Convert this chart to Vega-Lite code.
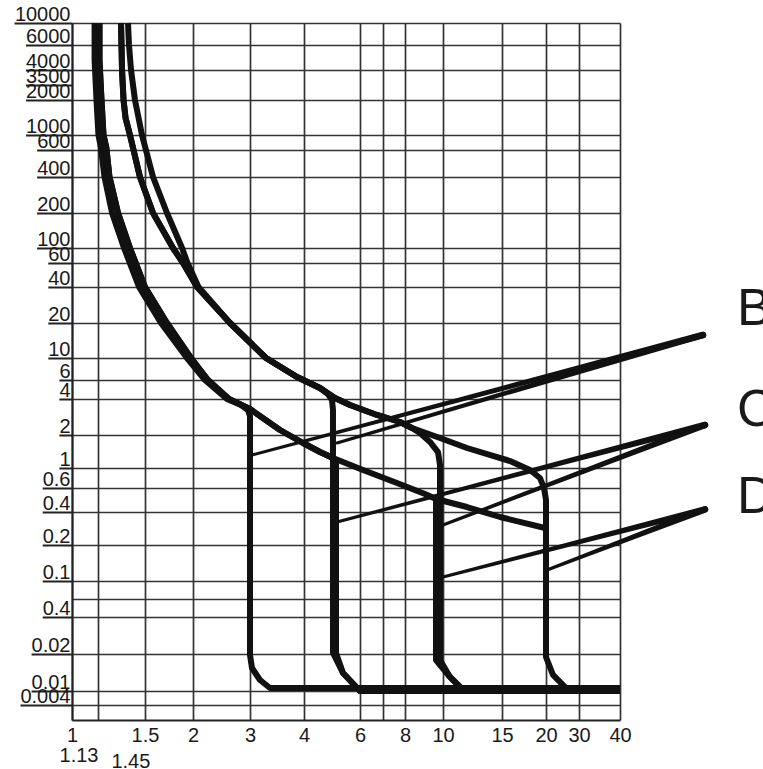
{
  "$schema": "https://vega.github.io/schema/vega-lite/v6.json",
  "autosize": {"type": "none"},
  "padding": {"left": 72, "top": 23, "right": 143, "bottom": 49},
  "width": 548,
  "height": 697,
  "background": "white",
  "config": {"view": {"stroke": null}},
  "datasets": {
    "curves": [
      {"s": "Blow", "i": 0, "x": 1.112, "t": 10000},
      {"s": "Blow", "i": 1, "x": 1.112, "t": 4705},
      {"s": "Blow", "i": 2, "x": 1.122, "t": 2000},
      {"s": "Blow", "i": 3, "x": 1.133, "t": 1000},
      {"s": "Blow", "i": 4, "x": 1.15, "t": 650},
      {"s": "Blow", "i": 5, "x": 1.175, "t": 400},
      {"s": "Blow", "i": 6, "x": 1.23, "t": 200},
      {"s": "Blow", "i": 7, "x": 1.322, "t": 100},
      {"s": "Blow", "i": 8, "x": 1.447, "t": 40},
      {"s": "Blow", "i": 9, "x": 1.651, "t": 20},
      {"s": "Blow", "i": 10, "x": 1.929, "t": 10},
      {"s": "Blow", "i": 11, "x": 2.178, "t": 6},
      {"s": "Blow", "i": 12, "x": 2.547, "t": 4},
      {"s": "Blow", "i": 13, "x": 2.814, "t": 3.564},
      {"s": "Blow", "i": 14, "x": 2.958, "t": 3.236},
      {"s": "Blow", "i": 15, "x": 3, "t": 2.884},
      {"s": "Blow", "i": 16, "x": 3, "t": 0.01963},
      {"s": "Blow", "i": 17, "x": 3.032, "t": 0.01539},
      {"s": "Blow", "i": 18, "x": 3.164, "t": 0.01229},
      {"s": "Blow", "i": 19, "x": 3.337, "t": 0.01058},
      {"s": "Blow", "i": 20, "x": 40, "t": 0.01058},

      {"s": "Clow", "i": 0, "x": 1.14, "t": 10000},
      {"s": "Clow", "i": 1, "x": 1.14, "t": 4705},
      {"s": "Clow", "i": 2, "x": 1.154, "t": 2000},
      {"s": "Clow", "i": 3, "x": 1.168, "t": 1000},
      {"s": "Clow", "i": 4, "x": 1.188, "t": 650},
      {"s": "Clow", "i": 5, "x": 1.211, "t": 400},
      {"s": "Clow", "i": 6, "x": 1.275, "t": 200},
      {"s": "Clow", "i": 7, "x": 1.37, "t": 100},
      {"s": "Clow", "i": 8, "x": 1.5, "t": 40},
      {"s": "Clow", "i": 9, "x": 1.711, "t": 20},
      {"s": "Clow", "i": 10, "x": 1.976, "t": 10},
      {"s": "Clow", "i": 11, "x": 2.225, "t": 6},
      {"s": "Clow", "i": 12, "x": 2.584, "t": 4},
      {"s": "Clow", "i": 13, "x": 3, "t": 3.3},
      {"s": "Clow", "i": 14, "x": 3.52, "t": 2.202},
      {"s": "Clow", "i": 15, "x": 3.979, "t": 1.691},
      {"s": "Clow", "i": 16, "x": 4.491, "t": 1.399},
      {"s": "Clow", "i": 17, "x": 4.934, "t": 1.234},
      {"s": "Clow", "i": 18, "x": 5.043, "t": 1.088},
      {"s": "Clow", "i": 19, "x": 5.043, "t": 0.02038},
      {"s": "Clow", "i": 20, "x": 5.305, "t": 0.01401},
      {"s": "Clow", "i": 21, "x": 6, "t": 0.01},
      {"s": "Clow", "i": 22, "x": 40, "t": 0.01},

      {"s": "Dlow", "i": 0, "x": 1.14, "t": 10000},
      {"s": "Dlow", "i": 1, "x": 1.14, "t": 4705},
      {"s": "Dlow", "i": 2, "x": 1.154, "t": 2000},
      {"s": "Dlow", "i": 3, "x": 1.168, "t": 1000},
      {"s": "Dlow", "i": 4, "x": 1.188, "t": 650},
      {"s": "Dlow", "i": 5, "x": 1.211, "t": 400},
      {"s": "Dlow", "i": 6, "x": 1.275, "t": 200},
      {"s": "Dlow", "i": 7, "x": 1.37, "t": 100},
      {"s": "Dlow", "i": 8, "x": 1.5, "t": 40},
      {"s": "Dlow", "i": 9, "x": 1.711, "t": 20},
      {"s": "Dlow", "i": 10, "x": 1.976, "t": 10},
      {"s": "Dlow", "i": 11, "x": 2.225, "t": 6},
      {"s": "Dlow", "i": 12, "x": 2.584, "t": 4},
      {"s": "Dlow", "i": 13, "x": 3, "t": 3.3},
      {"s": "Dlow", "i": 14, "x": 3.52, "t": 2.202},
      {"s": "Dlow", "i": 15, "x": 3.979, "t": 1.691},
      {"s": "Dlow", "i": 16, "x": 4.491, "t": 1.399},
      {"s": "Dlow", "i": 17, "x": 4.934, "t": 1.234},
      {"s": "Dlow", "i": 18, "x": 6.122, "t": 0.9502},
      {"s": "Dlow", "i": 19, "x": 7.621, "t": 0.6817},
      {"s": "Dlow", "i": 20, "x": 8.997, "t": 0.5422},
      {"s": "Dlow", "i": 21, "x": 9.597, "t": 0.4982},
      {"s": "Dlow", "i": 22, "x": 9.597, "t": 0.01787},
      {"s": "Dlow", "i": 23, "x": 10.49, "t": 0.013},
      {"s": "Dlow", "i": 24, "x": 11.47, "t": 0.01019},
      {"s": "Dlow", "i": 25, "x": 40, "t": 0.01019},

      {"s": "Ext", "i": 0, "x": 9.597, "t": 0.4982},
      {"s": "Ext", "i": 1, "x": 11.79, "t": 0.4352},
      {"s": "Ext", "i": 2, "x": 14.79, "t": 0.3601},
      {"s": "Ext", "i": 3, "x": 19.87, "t": 0.2858},

      {"s": "Bhigh", "i": 0, "x": 1.298, "t": 10000},
      {"s": "Bhigh", "i": 1, "x": 1.302, "t": 6000},
      {"s": "Bhigh", "i": 2, "x": 1.306, "t": 4000},
      {"s": "Bhigh", "i": 3, "x": 1.318, "t": 2000},
      {"s": "Bhigh", "i": 4, "x": 1.334, "t": 1400},
      {"s": "Bhigh", "i": 5, "x": 1.37, "t": 1000},
      {"s": "Bhigh", "i": 6, "x": 1.455, "t": 400},
      {"s": "Bhigh", "i": 7, "x": 1.574, "t": 200},
      {"s": "Bhigh", "i": 8, "x": 1.774, "t": 100},
      {"s": "Bhigh", "i": 9, "x": 1.884, "t": 60},
      {"s": "Bhigh", "i": 10, "x": 2.058, "t": 40},
      {"s": "Bhigh", "i": 11, "x": 2.602, "t": 20},
      {"s": "Bhigh", "i": 12, "x": 3.267, "t": 10},
      {"s": "Bhigh", "i": 13, "x": 3.853, "t": 6.433},
      {"s": "Bhigh", "i": 14, "x": 4.491, "t": 5.058},
      {"s": "Bhigh", "i": 15, "x": 4.759, "t": 4.45},
      {"s": "Bhigh", "i": 16, "x": 4.899, "t": 3.924},
      {"s": "Bhigh", "i": 17, "x": 4.934, "t": 3.236},
      {"s": "Bhigh", "i": 18, "x": 4.934, "t": 0.02038},
      {"s": "Bhigh", "i": 19, "x": 5.305, "t": 0.01401},
      {"s": "Bhigh", "i": 20, "x": 6, "t": 0.01},
      {"s": "Bhigh", "i": 21, "x": 40, "t": 0.01},

      {"s": "Chigh", "i": 0, "x": 1.298, "t": 10000},
      {"s": "Chigh", "i": 1, "x": 1.302, "t": 6000},
      {"s": "Chigh", "i": 2, "x": 1.306, "t": 4000},
      {"s": "Chigh", "i": 3, "x": 1.318, "t": 2000},
      {"s": "Chigh", "i": 4, "x": 1.334, "t": 1400},
      {"s": "Chigh", "i": 5, "x": 1.37, "t": 1000},
      {"s": "Chigh", "i": 6, "x": 1.455, "t": 400},
      {"s": "Chigh", "i": 7, "x": 1.574, "t": 200},
      {"s": "Chigh", "i": 8, "x": 1.774, "t": 100},
      {"s": "Chigh", "i": 9, "x": 1.884, "t": 60},
      {"s": "Chigh", "i": 10, "x": 2.058, "t": 40},
      {"s": "Chigh", "i": 11, "x": 2.602, "t": 20},
      {"s": "Chigh", "i": 12, "x": 3.267, "t": 10},
      {"s": "Chigh", "i": 13, "x": 3.853, "t": 6.433},
      {"s": "Chigh", "i": 14, "x": 4.491, "t": 5.058},
      {"s": "Chigh", "i": 15, "x": 5.006, "t": 4.086},
      {"s": "Chigh", "i": 16, "x": 5.581, "t": 3.564},
      {"s": "Chigh", "i": 17, "x": 6.724, "t": 2.94},
      {"s": "Chigh", "i": 18, "x": 7.761, "t": 2.569},
      {"s": "Chigh", "i": 19, "x": 8.336, "t": 2.288},
      {"s": "Chigh", "i": 20, "x": 8.737, "t": 2.078},
      {"s": "Chigh", "i": 21, "x": 9.265, "t": 1.727},
      {"s": "Chigh", "i": 22, "x": 9.71, "t": 1.399},
      {"s": "Chigh", "i": 23, "x": 9.826, "t": 1.065},
      {"s": "Chigh", "i": 24, "x": 9.826, "t": 0.01787},
      {"s": "Chigh", "i": 25, "x": 10.49, "t": 0.013},
      {"s": "Chigh", "i": 26, "x": 11.47, "t": 0.01019},
      {"s": "Chigh", "i": 27, "x": 40, "t": 0.01019},

      {"s": "Dhigh", "i": 0, "x": 1.354, "t": 10000},
      {"s": "Dhigh", "i": 1, "x": 1.362, "t": 6000},
      {"s": "Dhigh", "i": 2, "x": 1.379, "t": 4000},
      {"s": "Dhigh", "i": 3, "x": 1.412, "t": 2000},
      {"s": "Dhigh", "i": 4, "x": 1.473, "t": 1000},
      {"s": "Dhigh", "i": 5, "x": 1.574, "t": 400},
      {"s": "Dhigh", "i": 6, "x": 1.711, "t": 200},
      {"s": "Dhigh", "i": 7, "x": 1.873, "t": 100},
      {"s": "Dhigh", "i": 8, "x": 1.935, "t": 60},
      {"s": "Dhigh", "i": 9, "x": 2.08, "t": 40},
      {"s": "Dhigh", "i": 10, "x": 2.602, "t": 20},
      {"s": "Dhigh", "i": 11, "x": 3.267, "t": 10},
      {"s": "Dhigh", "i": 12, "x": 3.853, "t": 6.433},
      {"s": "Dhigh", "i": 13, "x": 4.491, "t": 5.058},
      {"s": "Dhigh", "i": 14, "x": 5.006, "t": 4.086},
      {"s": "Dhigh", "i": 15, "x": 5.581, "t": 3.564},
      {"s": "Dhigh", "i": 16, "x": 6.724, "t": 2.94},
      {"s": "Dhigh", "i": 17, "x": 7.761, "t": 2.569},
      {"s": "Dhigh", "i": 18, "x": 8.336, "t": 2.288},
      {"s": "Dhigh", "i": 19, "x": 9.826, "t": 1.878},
      {"s": "Dhigh", "i": 20, "x": 11.79, "t": 1.522},
      {"s": "Dhigh", "i": 21, "x": 15.81, "t": 1.158},
      {"s": "Dhigh", "i": 22, "x": 18.01, "t": 0.9502},
      {"s": "Dhigh", "i": 23, "x": 19.23, "t": 0.7746},
      {"s": "Dhigh", "i": 24, "x": 19.74, "t": 0.6},
      {"s": "Dhigh", "i": 25, "x": 20, "t": 0.4899},
      {"s": "Dhigh", "i": 26, "x": 20, "t": 0.01891},
      {"s": "Dhigh", "i": 27, "x": 21.8, "t": 0.0135},
      {"s": "Dhigh", "i": 28, "x": 25.89, "t": 0.01038},
      {"s": "Dhigh", "i": 29, "x": 40, "t": 0.01038}
    ],
    "leaders": [
      {"s": "B1", "i": 0, "x": 3.032, "t": 1.314},
      {"s": "B1", "i": 1, "x": 71.6, "t": 15.77},
      {"s": "B2", "i": 0, "x": 5.08, "t": 1.691},
      {"s": "B2", "i": 1, "x": 71.6, "t": 15.77},
      {"s": "C1", "i": 0, "x": 5.08, "t": 0.3242},
      {"s": "C1", "i": 1, "x": 72.6, "t": 2.425},
      {"s": "C2", "i": 0, "x": 10, "t": 0.3044},
      {"s": "C2", "i": 1, "x": 72.6, "t": 2.425},
      {"s": "D1", "i": 0, "x": 10, "t": 0.108},
      {"s": "D1", "i": 1, "x": 72.6, "t": 0.4178},
      {"s": "D2", "i": 0, "x": 20.25, "t": 0.1236},
      {"s": "D2", "i": 1, "x": 72.6, "t": 0.4178}
    ],
    "labels": [
      {"label": "B", "x": 90.9, "t": 19.22},
      {"label": "C", "x": 90.9, "t": 2.378},
      {"label": "D", "x": 90.9, "t": 0.3917}
    ]
  },
  "encoding": {
    "x": {
      "field": "x",
      "type": "quantitative",
      "scale": {
        "type": "log",
        "nice": false,
        "domain": [1, 1.13, 1.5, 2, 3, 4, 6, 7, 8, 10, 15, 20, 30, 40],
        "range": [0, 26, 73, 121, 178, 232, 288, 311, 333, 371, 430, 474, 507, 548]
      },
      "axis": {
        "title": null,
        "values": [1, 1.13, 1.45, 1.5, 2, 3, 4, 6, 7, 8, 10, 15, 20, 30, 40],
        "grid": true,
        "gridColor": "#333333",
        "gridWidth": 1.7,
        "gridOpacity": {"condition": {"test": "datum.value == 1.45", "value": 0}, "value": 1},
        "domainColor": "#222222",
        "domainWidth": 2,
        "ticks": false,
        "labelExpr": "datum.value == 7 ? '' : format(datum.value, '~g')",
        "labelFont": "Liberation Sans",
        "labelFontSize": 20,
        "labelColor": "#1a1a1a",
        "labelPadding": {"expr": "datum.value == 1.13 ? 25 : datum.value == 1.45 ? 31 : 5"},
        "labelAlign": {"expr": "datum.value == 1.13 ? 'right' : 'center'"},
        "labelOffset": {"expr": "datum.value == 1.45 ? -9 : 0"},
        "labelBaseline": "top",
        "labelOverlap": false,
        "labelBound": false,
        "labelFlush": false
      }
    },
    "y": {
      "field": "t",
      "type": "quantitative",
      "scale": {
        "type": "log",
        "nice": false,
        "domain": [0.003, 0.004, 0.01, 0.02, 0.04, 0.06, 0.1, 0.2, 0.4, 0.6, 1, 2, 4, 6, 10, 20, 40, 60, 100, 200, 400, 600, 1000, 2000, 4000, 6000, 10000],
        "range": [697, 682, 668, 631, 594, 576, 558, 522, 489, 465, 445, 412, 376, 357, 335, 300, 264, 240, 225, 190, 154, 127, 112, 77, 47, 22, 0]
      },
      "axis": {
        "title": null,
        "values": [10000, 6000, 4000, 2800, 2000, 1000, 600, 400, 200, 100, 60, 40, 20, 10, 6, 4, 2, 1, 0.6, 0.4, 0.2, 0.1, 0.06, 0.04, 0.02, 0.01, 0.004],
        "grid": true,
        "gridColor": "#333333",
        "gridWidth": 1.7,
        "gridOpacity": {"condition": {"test": "datum.value == 2800", "value": 0}, "value": 1},
        "domainColor": "#222222",
        "domainWidth": 2,
        "ticks": true,
        "tickColor": "#222222",
        "tickWidth": 2,
        "tickSize": {"expr": "(datum.value > 9999 ? 56 : datum.value > 999 ? 44.5 : datum.value > 99 ? 33.4 : datum.value > 9 ? 22.2 : datum.value >= 1 ? 11.1 : (datum.value > 0.05 && datum.value < 0.07) ? -2 : datum.value >= 0.04 ? 27.8 : datum.value >= 0.01 ? 38.9 : 50) + 2"},
        "labelPadding": {"expr": "-(datum.value > 9999 ? 56 : datum.value > 999 ? 44.5 : datum.value > 99 ? 33.4 : datum.value > 9 ? 22.2 : datum.value >= 1 ? 11.1 : (datum.value > 0.05 && datum.value < 0.07) ? -2 : datum.value >= 0.04 ? 27.8 : datum.value >= 0.01 ? 38.9 : 50)"},
        "labelExpr": "datum.value == 2800 ? '3500' : datum.value == 0.04 ? '0.4' : datum.value == 0.06 ? '' : format(datum.value, '~g')",
        "labelFont": "Liberation Sans",
        "labelFontSize": 20,
        "labelColor": "#1a1a1a",
        "labelAlign": "right",
        "labelBaseline": "alphabetic",
        "labelOffset": -3,
        "labelOverlap": false,
        "labelBound": false,
        "labelFlush": false
      }
    }
  },
  "layer": [
    {
      "data": {"name": "curves"},
      "mark": {"type": "line", "color": "#111111", "strokeWidth": 6, "strokeJoin": "round", "strokeCap": "butt"},
      "encoding": {
        "detail": {"field": "s", "type": "nominal"},
        "order": {"field": "i", "type": "quantitative"}
      }
    },
    {
      "data": {"name": "leaders"},
      "mark": {"type": "trail", "color": "#111111"},
      "encoding": {
        "detail": {"field": "s", "type": "nominal"},
        "order": {"field": "i", "type": "quantitative"},
        "size": {"field": "i", "type": "quantitative", "scale": {"domain": [0, 1], "range": [3, 6.5]}, "legend": null}
      }
    },
    {
      "data": {"name": "labels"},
      "mark": {"type": "text", "align": "left", "baseline": "alphabetic", "font": "Liberation Sans", "fontSize": 52, "color": "#1a1a1a"},
      "encoding": {
        "text": {"field": "label", "type": "nominal"}
      }
    }
  ]
}
